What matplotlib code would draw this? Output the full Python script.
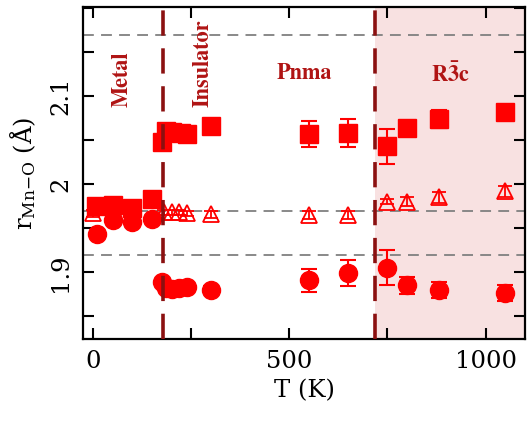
import matplotlib
matplotlib.use("Agg")
import matplotlib.pyplot as plt
from matplotlib.ticker import MultipleLocator

plt.rcParams['font.family'] = ['DejaVu Serif']
plt.rcParams['mathtext.fontset'] = 'custom'
plt.rcParams['mathtext.rm'] = 'DejaVu Serif'
plt.rcParams['mathtext.it'] = 'DejaVu Serif:italic'
plt.rcParams['mathtext.bf'] = 'STIXGeneral:bold'

# long bond (squares)
T_sq = [8, 50, 100, 150, 175, 185, 200, 225, 240, 300, 550, 650, 750, 800, 880, 1050]
r_sq = [1.975, 1.976, 1.973, 1.983, 2.048, 2.060, 2.059, 2.058, 2.057, 2.066,
        2.057, 2.058, 2.043, 2.064, 2.074, 2.082]
e_sq = [0.003, 0.003, 0.003, 0.003, 0.003, 0.003, 0.003, 0.003, 0.003, 0.003,
        0.015, 0.016, 0.020, 0.004, 0.010, 0.004]

# middle bond (open triangles)
T_tr = [0, 180, 200, 220, 240, 300, 550, 650, 750, 800, 880, 1050]
r_tr = [1.967, 1.968, 1.968, 1.968, 1.967, 1.966, 1.965, 1.965, 1.980, 1.980, 1.985, 1.992]
e_tr = [0.004, 0.003, 0.003, 0.003, 0.003, 0.004, 0.005, 0.005, 0.003, 0.005, 0.006, 0.006]

# short bond (circles)
T_ci = [10, 50, 100, 150, 175, 185, 200, 220, 240, 300, 550, 650, 750, 800, 880, 1050]
r_ci = [1.943, 1.959, 1.957, 1.961, 1.889, 1.882, 1.881, 1.882, 1.883, 1.880,
        1.891, 1.899, 1.905, 1.885, 1.880, 1.876]
e_ci = [0.003, 0.003, 0.003, 0.003, 0.003, 0.003, 0.003, 0.003, 0.003, 0.004,
        0.013, 0.015, 0.020, 0.010, 0.009, 0.009]

h_lines = [2.17, 1.97, 1.92]
T_MI = 178
T_RP = 718

fig = plt.figure(figsize=(5.27, 4.24), dpi=100)
ax = fig.add_axes([0.158, 0.200, 0.838, 0.783])

ax.axvspan(T_RP, 1200, color='#f8e1e1', zorder=0, lw=0)
for y in h_lines:
    ax.axhline(y, color='#808080', ls=(0, (6, 4)), lw=1.3, zorder=1)
for x in [T_MI, T_RP]:
    ax.axvline(x, color='#8b1010', ls=(0, (7, 3.5)), lw=2.6, zorder=4)

red = '#ff0000'
ax.errorbar(T_sq, r_sq, yerr=e_sq, fmt='s', color=red, ms=13, capsize=6,
            elinewidth=1.5, capthick=1.5, zorder=3)
ax.errorbar(T_ci, r_ci, yerr=e_ci, fmt='o', color=red, ms=13, capsize=6,
            elinewidth=1.5, capthick=1.5, zorder=3)
ax.errorbar(T_tr, r_tr, yerr=e_tr, fmt='^', color=red, mfc='none', mew=1.3, ms=11.5,
            capsize=5, elinewidth=1.3, capthick=1.3, zorder=3)

lab = dict(color='#b01414', fontsize=16, fontfamily='STIXGeneral', fontweight='bold',
           ha='center', va='center', zorder=5)
ax.text(74, 2.119, 'Metal', rotation=90, **lab)
ax.text(279, 2.137, 'Insulator', rotation=90, **lab)
ax.text(538, 2.126, 'Pnma', **lab)
ax.text(911, 2.124, r'$\mathbf{R\bar{3}c}$', **lab)

ax.set_xlim(-25, 1100)
ax.set_ylim(1.824, 2.201)
ax.xaxis.set_major_locator(MultipleLocator(500))
ax.xaxis.set_minor_locator(MultipleLocator(250))
ax.yaxis.set_major_locator(MultipleLocator(0.1))
ax.yaxis.set_minor_locator(MultipleLocator(0.05))
ax.set_yticks([1.9, 2.0, 2.1])
ax.set_yticklabels(['1.9', '2', '2.1'], rotation=90, va='center')
ax.tick_params(which='both', direction='in', top=True, right=True,
               length=8, width=1.5, labelsize=17.5, pad=8)
for s in ax.spines.values():
    s.set_linewidth(1.6)

ax.set_xlabel('T (K)', fontsize=17.5, labelpad=4)
ax.set_ylabel(r'r$_{\mathrm{Mn{-}O}}$ (Å)', fontsize=17.5, labelpad=8)

fig.savefig('out.png', dpi=100)
